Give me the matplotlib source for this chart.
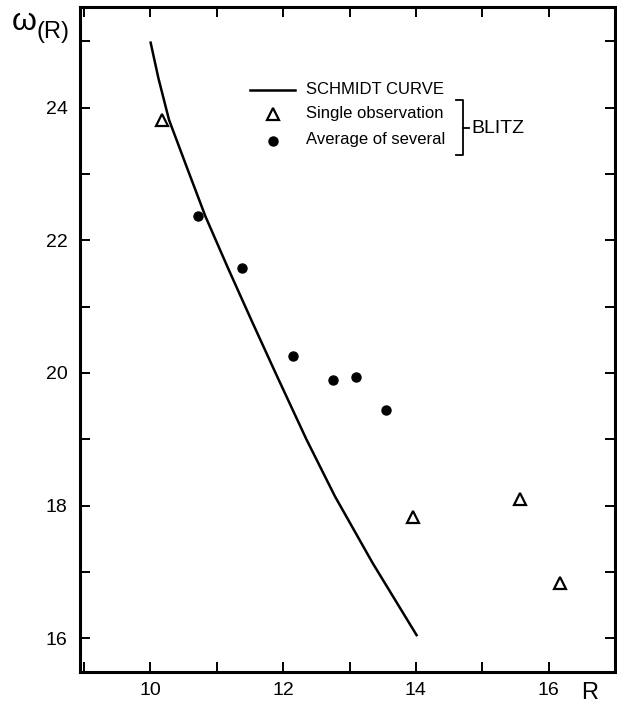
import matplotlib
matplotlib.use("Agg")
import matplotlib.pyplot as plt
from matplotlib.lines import Line2D

plt.rcParams['font.family'] = ['Liberation Sans', 'DejaVu Sans']

# Schmidt rotation curve, omega(R) against R
schmidt_r = [10.0, 10.12, 10.28, 10.55, 10.83, 11.17, 11.52, 11.89, 12.35,
             12.78, 13.35, 14.02]
schmidt_w = [25.0, 24.45, 23.82, 23.1, 22.36, 21.58, 20.8, 19.99, 19.0,
             18.14, 17.13, 16.03]

# Blitz: single observations (open triangles)
single_r = [10.18, 13.96, 15.57, 16.17]
single_w = [23.82, 17.83, 18.10, 16.83]

# Blitz: average of several observations (filled dots)
avg_r = [10.72, 11.38, 12.15, 12.75, 13.10, 13.55]
avg_w = [22.36, 21.58, 20.25, 19.89, 19.94, 19.44]

x_ticks = [10, 12, 14, 16]
y_ticks = [16, 18, 20, 22, 24]

fig = plt.figure(figsize=(6.17, 7.06), dpi=100)
ax = fig.add_axes([0.1297, 0.0482, 0.8671, 0.9419])

ax.plot(schmidt_r, schmidt_w, color='black', lw=1.8, solid_capstyle='butt',
        solid_joinstyle='round')
ax.plot(single_r, single_w, ls='none', marker='^', ms=8, mfc='white',
        mec='black', mew=1.6)
ax.plot(avg_r, avg_w, ls='none', marker='o', ms=6.5, mfc='black', mec='black')

ax.set_xlim(8.94, 17.0)
ax.set_ylim(15.49, 25.52)

ax.set_xticks(range(9, 18), minor=True)
ax.set_yticks(range(16, 26), minor=True)
ax.set_xticks(x_ticks)
ax.set_yticks(y_ticks)
ax.set_xticklabels([str(v) for v in x_ticks])
ax.set_yticklabels([str(v) for v in y_ticks])
ax.tick_params(which='both', direction='in', top=True, right=True,
               length=7, width=1.4, labelsize=14)
ax.tick_params(axis='x', pad=7)
ax.tick_params(axis='y', pad=9)
for s in ax.spines.values():
    s.set_linewidth(2.2)

# legend drawn by hand with the BLITZ bracket
tr = ax.transAxes
ax.add_line(Line2D([0.318, 0.402], [0.875, 0.875], transform=tr,
                   color='black', lw=1.8))
ax.plot([0.360], [0.839], transform=tr, marker='^', ms=8, mfc='white',
        mec='black', mew=1.6)
ax.plot([0.360], [0.799], transform=tr, marker='o', ms=6.5, color='black')
labels = ['SCHMIDT CURVE', 'Single observation', 'Average of several']
for yy, t in zip([0.876, 0.840, 0.801], labels):
    ax.text(0.422, yy, t, transform=tr, fontsize=12, va='center', ha='left')

ax.add_line(Line2D([0.703, 0.716, 0.716, 0.703],
                   [0.860, 0.860, 0.777, 0.777], transform=tr,
                   color='black', lw=1.3))
ax.add_line(Line2D([0.716, 0.727], [0.818, 0.818], transform=tr,
                   color='black', lw=1.3))
ax.text(0.731, 0.818, 'BLITZ', transform=tr, fontsize=14, va='center',
        ha='left')

# axis labels
fig.text(12 / 617, 1 - 22 / 706, 'ω', fontsize=23, ha='left', va='center')
fig.text(37 / 617, 1 - 32 / 706, '(R)', fontsize=17, ha='left', va='center')
fig.text(590 / 617, 1 - 693 / 706, 'R', fontsize=17, ha='center',
         va='center')

fig.savefig('out.png', dpi=100)
